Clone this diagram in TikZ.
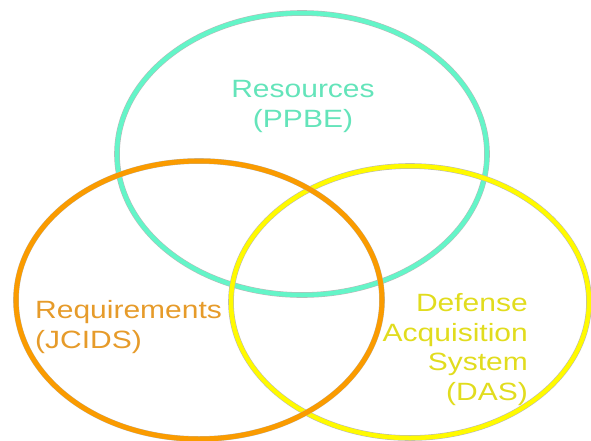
\documentclass[tikz,border=0pt]{standalone}
\usepackage{fontspec}
\setmainfont[FakeStretch=1.2]{Liberation Sans}
\usepackage{xcolor}
\definecolor{ppbeteal}{RGB}{100,245,200}
\definecolor{jcidsorange}{RGB}{250,155,0}
\definecolor{dasyellow}{RGB}{255,250,0}
\definecolor{ppbetext}{RGB}{100,228,186}
\definecolor{jcidstext}{RGB}{230,155,42}
\definecolor{dastext}{RGB}{225,220,30}

\begin{document}
\begin{tikzpicture}[x=1pt, y=-1pt,
    ring/.style={line width=4.5pt, preaction={draw=gray!55, line width=5.6pt}},
    lbl/.style={font=\fontsize{25}{29.5}\selectfont, inner sep=0pt}]
    \useasboundingbox (0,0) rectangle (591,440);

    % the three circles of the acquisition process
    \draw[ring, draw=ppbeteal] (302,154) ellipse [x radius=185pt, y radius=141pt];
    \draw[ring, draw=dasyellow] (410,302) ellipse [x radius=179pt, y radius=136pt];
    \draw[ring, draw=jcidsorange, line width=5pt] (199,300) ellipse [x radius=183pt, y radius=139pt];

    % labels (base anchor sits on the last line)
    \node[lbl, text=ppbetext, align=center, anchor=base] (ppbe) at (303,127) {Resources\\(PPBE)};
    \node[lbl, text=jcidstext, align=left, anchor=base west] (jcids) at (35,348) {Requirements\\(JCIDS)};
    \node[lbl, text=dastext, align=right, anchor=base east] (das) at (528,400) {Defense\\Acquisition\\System\\(DAS)};
\end{tikzpicture}
\end{document}
